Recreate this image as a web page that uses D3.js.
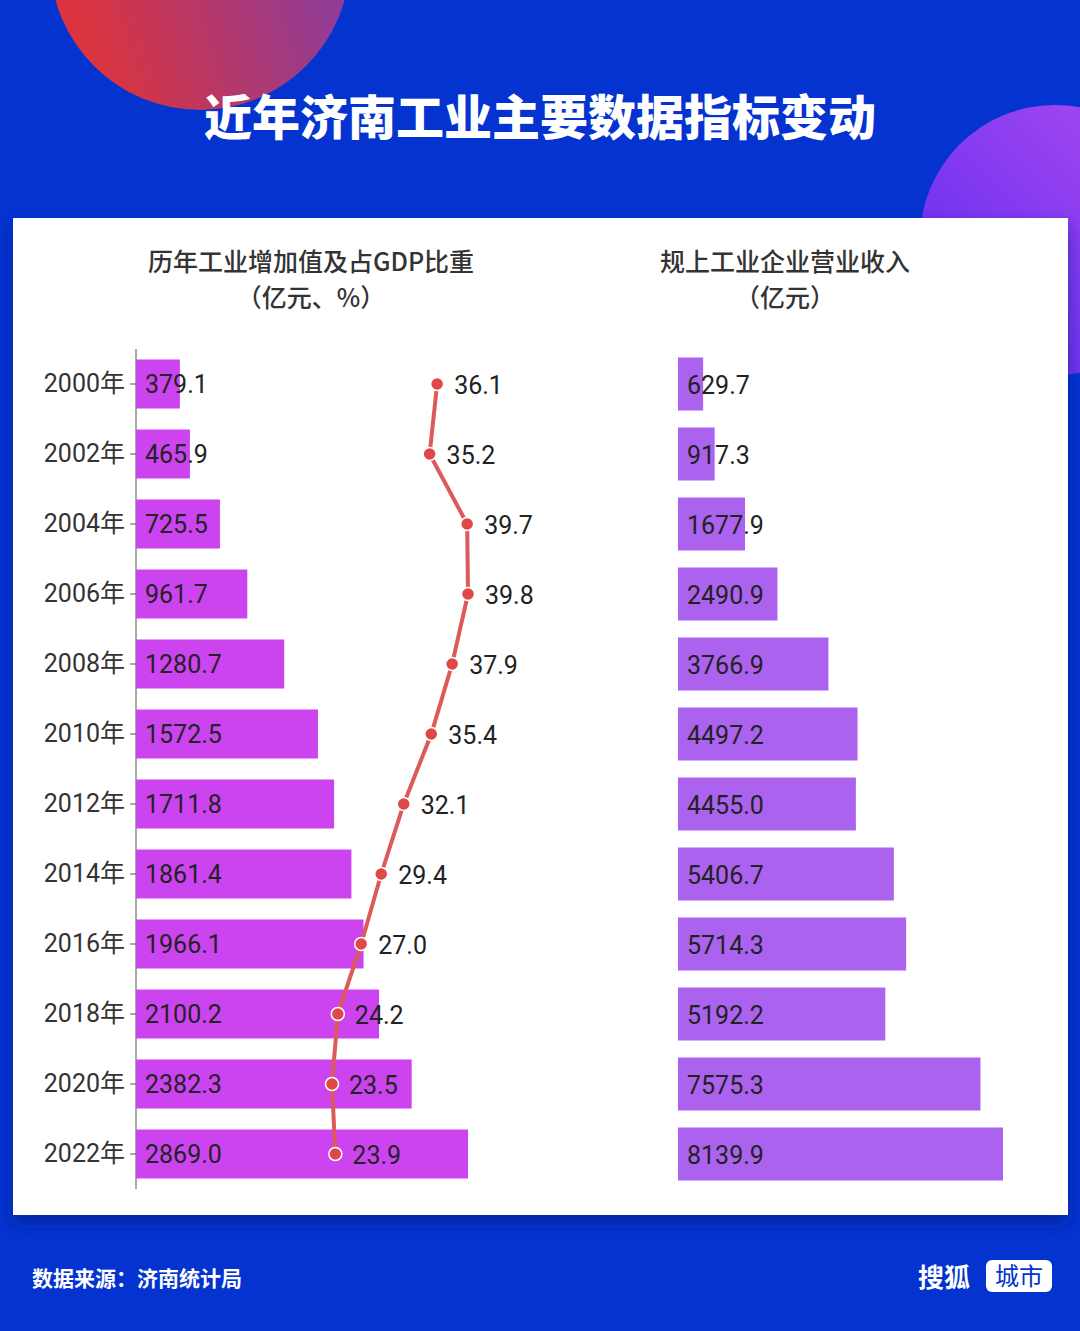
<!DOCTYPE html>
<html><head><meta charset="utf-8">
<script src="https://cdn.jsdelivr.net/npm/d3@7"></script>
<style>body{margin:0;background:#0433d0;font-family:"Noto Sans CJK SC","Noto Sans",sans-serif;}</style>
</head><body><div id="chart"></div>
<script>
const years = ["2000年","2002年","2004年","2006年","2008年","2010年","2012年","2014年","2016年","2018年","2020年","2022年"];
const addedValue = [379.1,465.9,725.5,961.7,1280.7,1572.5,1711.8,1861.4,1966.1,2100.2,2382.3,2869.0];
const gdpShare = [36.1,35.2,39.7,39.8,37.9,35.4,32.1,29.4,27.0,24.2,23.5,23.9];
const revenue = [629.7,917.3,1677.9,2490.9,3766.9,4497.2,4455.0,5406.7,5714.3,5192.2,7575.3,8139.9];

const W = 1080, H = 1331;
const svg = d3.select("#chart").append("svg").attr("width", W).attr("height", H);
const defs = svg.append("defs");
const g1 = defs.append("linearGradient").attr("id","c1").attr("x1","0").attr("x2","1").attr("y1","0.3").attr("y2","0");
g1.append("stop").attr("offset","0").attr("stop-color","#d9343f");
g1.append("stop").attr("offset","1").attr("stop-color","#7a3fb0");
const g2 = defs.append("linearGradient").attr("id","c2").attr("x1","1").attr("x2","0").attr("y1","0").attr("y2","1");
g2.append("stop").attr("offset","0").attr("stop-color","#b04cf0");
g2.append("stop").attr("offset","1").attr("stop-color","#5a2af0");
const sh = defs.append("filter").attr("id","sh").attr("x","-5%").attr("y","-5%").attr("width","110%").attr("height","115%");
sh.append("feDropShadow").attr("dx",0).attr("dy",8).attr("stdDeviation",8).attr("flood-color","#001a80").attr("flood-opacity",0.6);

svg.append("rect").attr("width",W).attr("height",H).attr("fill","#0433d0");
svg.append("circle").attr("cx",200).attr("cy",-40).attr("r",150).attr("fill","url(#c1)");
svg.append("circle").attr("cx",1055).attr("cy",240).attr("r",135).attr("fill","url(#c2)");

svg.append("text").attr("x",540).attr("y",135).attr("text-anchor","middle")
  .attr("fill","#fff").attr("font-size",48).attr("font-weight",900).text("近年济南工业主要数据指标变动");

svg.append("rect").attr("x",13).attr("y",218).attr("width",1055).attr("height",997).attr("fill","#fff").attr("filter","url(#sh)");

const hdr = (x, lines) => lines.forEach((t,i) => svg.append("text").attr("x",x).attr("y",271+i*36)
  .attr("text-anchor","middle").attr("font-size",25).attr("font-weight",500).attr("fill","#333").text(t));
hdr(311, ["历年工业增加值及占GDP比重","（亿元、%）"]);
hdr(785, ["规上工业企业营业收入","（亿元）"]);

const y = d3.scaleBand().domain(years).range([349,1189]).paddingInner(0.3).paddingOuter(0.15);
const xL = d3.scaleLinear().domain([0,2869]).range([136,468]);
const xR = d3.scaleLinear().domain([0,8139.9]).range([678,1003]);
const xP = d3.scaleLinear().domain([23.5,39.8]).range([332,468]);

const axis = svg.append("g").attr("transform","translate(136,0)").call(d3.axisLeft(y).tickSize(6).tickSizeOuter(0));
axis.select(".domain").attr("stroke","#555");
axis.selectAll(".tick line").attr("stroke","#555");
axis.selectAll("text").attr("font-size",25).attr("fill","#333").attr("font-family","Roboto,'Noto Sans CJK SC'").attr("dx",-2);
axis.select(".domain").attr("d","M0,349V1189");

svg.selectAll(".bl").data(years).join("rect").attr("x",136).attr("y",d=>y(d))
  .attr("width",(d,i)=>xL(addedValue[i])-136).attr("height",y.bandwidth()).attr("fill","#cc44f0");
svg.selectAll(".tl").data(years).join("text").attr("x",145).attr("y",d=>y(d)+y.bandwidth()/2+9)
  .attr("font-size",25).attr("fill","#222").attr("font-family","Roboto").text((d,i)=>addedValue[i].toFixed(1));

svg.selectAll(".br").data(years).join("rect").attr("x",678).attr("y",d=>y(d)-2)
  .attr("width",(d,i)=>xR(revenue[i])-678).attr("height",y.bandwidth()+4).attr("fill","#ab63ef");
svg.selectAll(".tr").data(years).join("text").attr("x",687).attr("y",d=>y(d)+y.bandwidth()/2+10)
  .attr("font-size",25).attr("fill","#222").attr("font-family","Roboto").text((d,i)=>revenue[i].toFixed(1));

const cy = d => y(d)+y.bandwidth()/2;
const line = d3.line().x((d,i)=>xP(gdpShare[i])).y(d=>cy(d));
svg.append("path").attr("d",line(years)).attr("fill","none").attr("stroke","#dd5a5a").attr("stroke-width",4);
svg.selectAll(".pt").data(years).join("circle").attr("cx",(d,i)=>xP(gdpShare[i])).attr("cy",cy)
  .attr("r",6.5).attr("fill","#e04848").attr("stroke","#fff").attr("stroke-width",1.5);
svg.selectAll(".pl").data(years).join("text").attr("x",(d,i)=>xP(gdpShare[i])+17).attr("y",d=>cy(d)+10)
  .attr("font-size",25).attr("fill","#222").attr("font-family","Roboto").text((d,i)=>gdpShare[i].toFixed(1));

svg.append("text").attr("x",32).attr("y",1286).attr("fill","#fff").attr("font-size",21).attr("font-weight",700).text("数据来源：济南统计局");
svg.append("text").attr("x",918).attr("y",1287).attr("fill","#fff").attr("font-size",26).attr("font-weight",700).text("搜狐");
svg.append("rect").attr("x",986).attr("y",1260).attr("width",66).attr("height",32).attr("rx",6).attr("fill","#fff");
svg.append("text").attr("x",1019).attr("y",1285).attr("text-anchor","middle").attr("fill","#0433d0").attr("font-size",24).text("城市");
</script></body></html>
